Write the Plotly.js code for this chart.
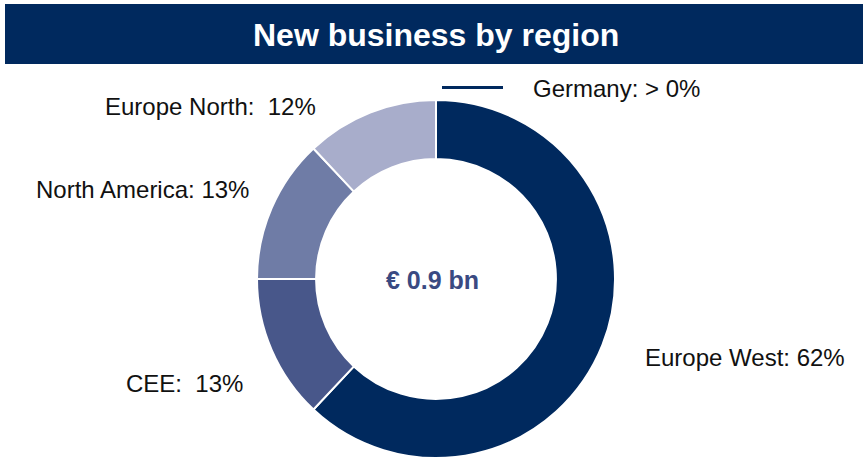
<!DOCTYPE html>
<html>
<head>
<meta charset="utf-8">
<script src="https://cdn.plot.ly/plotly-3.0.1.min.js"></script>
<style>
html,body{margin:0;padding:0;background:#fff;}
#chart{width:863px;height:458px;}
</style>
</head>
<body>
<div id="chart"></div>
<script>
// ---- data ----
var regions = ["Europe West", "CEE", "North America", "Europe North", "Germany"];
var shares = [62, 13, 13, 12, 0];
var shareLabels = ["62%", "13%", "13%", "12%", "> 0%"];
var separators = [": ", ":\u00a0 ", ": ", ":\u00a0 ", ": "];
var totalLabel = "\u20ac 0.9 bn";
var chartTitle = "New business by region";

// ---- styles ----
var sliceColors = ["#00295E", "#48578A", "#6F7CA6", "#A8ADCB", "#00295E"];
var W = 863, H = 458;
function px(x){ return x / W; }
function py(y){ return 1 - y / H; }

// label placement (pixel positions, anchor)
var labelPos = [
  {x: 643, y: 357, xa: "left"},
  {x: 245, y: 383, xa: "right"},
  {x: 251, y: 190, xa: "right"},
  {x: 318, y: 107, xa: "right"},
  {x: 531, y: 89, xa: "left"}
];

var annotations = [];
for (var i = 0; i < regions.length; i++) {
  annotations.push({
    xref: "paper", yref: "paper",
    x: px(labelPos[i].x), y: py(labelPos[i].y),
    xanchor: labelPos[i].xa, yanchor: "middle",
    text: regions[i] + separators[i] + shareLabels[i],
    showarrow: false,
    font: {family: "Liberation Sans, Arial, sans-serif", size: 24, color: "#111"}
  });
}
// title
annotations.push({
  xref: "paper", yref: "paper",
  x: px(436), y: py(35), xanchor: "center", yanchor: "middle",
  text: "<b>" + chartTitle + "</b>", showarrow: false,
  font: {family: "Liberation Sans, Arial, sans-serif", size: 32, color: "#ffffff"}
});
// center total
annotations.push({
  xref: "paper", yref: "paper",
  x: px(432), y: py(280), xanchor: "center", yanchor: "middle",
  text: "<b>" + totalLabel + "</b>", showarrow: false,
  font: {family: "Liberation Sans, Arial, sans-serif", size: 25, color: "#3A4A82"}
});

var R = 179, cx = 436, cy = 279;
var trace = {
  type: "pie",
  labels: regions,
  values: shares,
  sort: false,
  direction: "clockwise",
  rotation: 0,
  hole: 0.67,
  textinfo: "none",
  hoverinfo: "label+percent",
  marker: {colors: sliceColors, line: {color: "#ffffff", width: 2}},
  domain: {x: [px(cx - R), px(cx + R)], y: [py(cy + R), py(cy - R)]},
  showlegend: false
};

var layout = {
  width: W, height: H,
  margin: {l: 0, r: 0, t: 0, b: 0},
  paper_bgcolor: "#ffffff",
  plot_bgcolor: "#ffffff",
  showlegend: false,
  shapes: [
    {type: "rect", xref: "paper", yref: "paper", x0: px(5), x1: px(863), y0: py(64), y1: py(4),
     fillcolor: "#00295E", line: {width: 0}, layer: "below"},
    {type: "line", xref: "paper", yref: "paper", x0: px(442), x1: px(503), y0: py(87.5), y1: py(87.5),
     line: {color: "#00295E", width: 3}}
  ],
  annotations: annotations
};

Plotly.newPlot("chart", [trace], layout, {displayModeBar: false, staticPlot: true});
</script>
</body>
</html>
